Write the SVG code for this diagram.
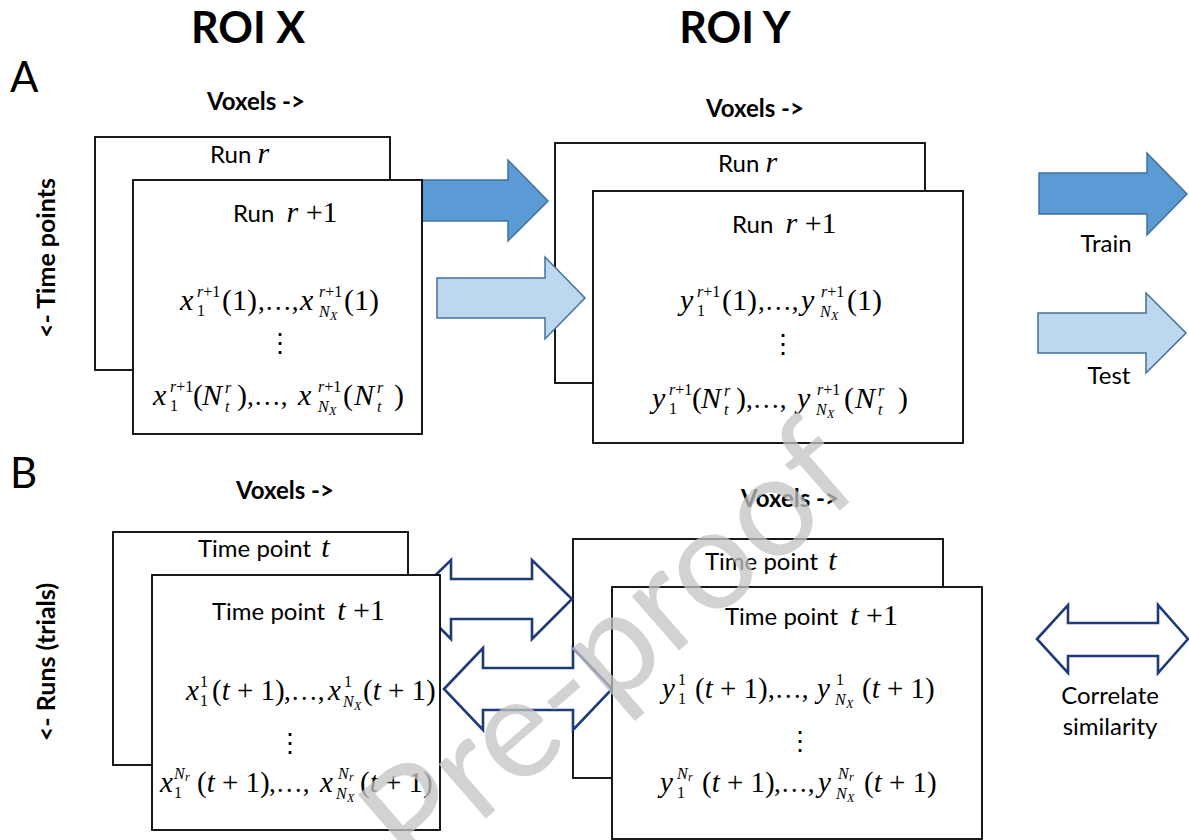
<svg xmlns="http://www.w3.org/2000/svg" width="1189" height="840" viewBox="0 0 1189 840">
  <style>
    .box { fill: #ffffff; stroke: #000000; stroke-width: 1.8; }
    .lbl { font-family: Lato, "Liberation Sans", sans-serif; fill: #000000; }
    .hd { font-size: 43px; font-weight: bold; }
    .panel { font-size: 42px; }
    .vx { font-size: 24px; font-weight: bold; }
    .vxl { font-size: 25px; font-weight: bold; }
    .run { font-size: 24px; }
    .cap { font-size: 24px; }
    .m { font-family: "Liberation Serif", "Times New Roman", serif; font-size: 30px; fill: #000000; }
    .mb { font-family: "Liberation Serif", "Times New Roman", serif; font-size: 29px; fill: #000000; }
    .i { font-style: italic; }
    .s { font-size: 16px; }
    .ss { font-size: 12px; }
    .el { font-size: 27px; }
    .dots { font-family: "DejaVu Serif", serif; font-size: 26px; fill: #000000; }
    .solid-dark { fill: #5B9BD5; stroke: #41719C; stroke-width: 1.5; }
    .solid-light { fill: #BDD7EE; stroke: #41719C; stroke-width: 1.5; }
    .dbl { fill: #ffffff; stroke: #1F3A78; stroke-width: 2.6; stroke-linejoin: miter; }
    .wm { font-family: Lato, "Liberation Sans", sans-serif; font-size: 142px; fill: #c4c4c4; opacity: 0.75; }
  </style>

  <rect width="1189" height="840" fill="#ffffff"/>

  <!-- headings and axis labels -->
  <g id="headings">
    <text class="lbl hd" x="248" y="43" text-anchor="middle">ROI X</text>
    <text class="lbl hd" x="735" y="43" text-anchor="middle">ROI Y</text>
    <text class="lbl panel" x="10" y="92">A</text>
    <text class="lbl panel" x="10" y="488">B</text>
    <text class="lbl vx" x="256" y="110" text-anchor="middle">Voxels -&gt;</text>
    <text class="lbl vx" x="755" y="117" text-anchor="middle">Voxels -&gt;</text>
    <text class="lbl vx" x="285" y="499" text-anchor="middle">Voxels -&gt;</text>
    <text class="lbl vx" x="790" y="507" text-anchor="middle">Voxels -&gt;</text>
    <text class="lbl vxl" transform="translate(55,258) rotate(-90)" text-anchor="middle">&lt;- Time points</text>
    <text class="lbl vxl" transform="translate(55,662) rotate(-90)" text-anchor="middle">&lt;- Runs (trials)</text>
  </g>

  <!-- Panel A: back runs -->
  <g id="a-x-run-r">
    <rect class="box" x="95" y="137" width="295" height="233"/>
    <text class="lbl run" x="210" y="163">Run <tspan class="m i" font-size="26px">r</tspan></text>
  </g>
  <g id="a-y-run-r">
    <rect class="box" x="555" y="143" width="370" height="240"/>
    <text class="lbl run" x="718" y="172">Run <tspan class="m i" font-size="26px">r</tspan></text>
  </g>

  <!-- Panel B: back time points -->
  <g id="b-x-time-t">
    <rect class="box" x="113" y="532" width="295" height="233"/>
    <text class="lbl run" x="198" y="557">Time point <tspan class="m i" font-size="26px" dx="4">t</tspan></text>
  </g>
  <g id="b-y-time-t">
    <rect class="box" x="573" y="539" width="370" height="239"/>
    <text class="lbl run" x="705" y="570">Time point <tspan class="m i" font-size="26px" dx="4">t</tspan></text>
  </g>

  <!-- connectors -->
  <g id="connectors">
    <polygon class="solid-dark" points="422,180 508,180 508,160 548,201 508,241 508,221 422,221"/>
    <polygon class="solid-light" points="437,278 545,278 545,257 585,298 545,339 545,318 437,318"/>
    <polygon class="solid-dark" points="1039,173 1147,173 1147,153 1187,194 1147,235 1147,214 1039,214"/>
    <polygon class="solid-light" points="1038,313 1146,313 1146,293 1186,333 1146,373 1146,353 1038,353"/>
    <polygon class="dbl" points="411,599 451,560 451,579 532,579 532,560 572,599 532,639 532,619 451,619 451,639"/>
    <polygon class="dbl" points="444,689 483,648 483,668 573,668 573,648 612,689 573,730 573,710 483,710 483,730"/>
    <polygon class="dbl" points="1037,639 1068,605 1068,623 1158,623 1158,605 1188,639 1158,673 1158,656 1068,656 1068,673"/>
  </g>

  <!-- legend captions -->
  <g id="legend">
    <text class="lbl cap" x="1106" y="252" text-anchor="middle">Train</text>
    <text class="lbl cap" x="1109" y="384" text-anchor="middle">Test</text>
    <text class="lbl cap" x="1110" y="704" text-anchor="middle">Correlate</text>
    <text class="lbl cap" x="1110" y="735" text-anchor="middle">similarity</text>
  </g>

  <!-- Panel A: run r+1 of ROI X -->
  <g id="a-x-run-r1">
    <rect class="box" x="133" y="180" width="289" height="254"/>
    <text class="lbl run" x="233" y="222">Run <tspan class="m i" font-size="26px" dx="6">r</tspan><tspan class="m" font-size="26px"> +1</tspan></text>
    <g transform="translate(180,310)">
      <text class="m"><tspan class="i" x="0" y="0">x</tspan><tspan class="s" x="17" y="6">1</tspan><tspan class="s" x="17" y="-13"><tspan class="i">r</tspan>+1</tspan><tspan x="42" y="0">(1)</tspan><tspan class="el" x="78" y="0">,…,</tspan><tspan class="i" x="120" y="0">x</tspan><tspan class="s i" x="139" y="7">N</tspan><tspan class="ss i" x="150" y="10">X</tspan><tspan class="s" x="139" y="-13"><tspan class="i">r</tspan>+1</tspan><tspan x="164" y="0">(1)</tspan></text>
    </g>
    <text class="dots" x="280" y="352" text-anchor="middle">⋮</text>
    <g transform="translate(153,405)">
      <text class="m"><tspan class="i" x="0" y="0">x</tspan><tspan class="s" x="17" y="6">1</tspan><tspan class="s" x="17" y="-13"><tspan class="i">r</tspan>+1</tspan><tspan x="40" y="0">(</tspan><tspan class="i" x="49" y="0">N</tspan><tspan class="s i" x="72" y="-12">r</tspan><tspan class="s i" x="72" y="7">t</tspan><tspan x="84" y="0">)</tspan><tspan class="el" x="94" y="0">,…,</tspan><tspan class="i" x="145" y="0">x</tspan><tspan class="s i" x="165" y="7">N</tspan><tspan class="ss i" x="176" y="10">X</tspan><tspan class="s" x="165" y="-13"><tspan class="i">r</tspan>+1</tspan><tspan x="190" y="0">(</tspan><tspan class="i" x="201" y="0">N</tspan><tspan class="s i" x="224" y="-12">r</tspan><tspan class="s i" x="224" y="7">t</tspan><tspan x="241" y="0">)</tspan></text>
    </g>
  </g>

  <!-- Panel A: run r+1 of ROI Y -->
  <g id="a-y-run-r1">
    <rect class="box" x="593" y="191" width="370" height="252"/>
    <text class="lbl run" x="732" y="233">Run <tspan class="m i" font-size="26px" dx="6">r</tspan><tspan class="m" font-size="26px"> +1</tspan></text>
    <g transform="translate(680,310)">
      <text class="m"><tspan class="i" x="0" y="0">y</tspan><tspan class="s" x="17" y="6">1</tspan><tspan class="s" x="17" y="-13"><tspan class="i">r</tspan>+1</tspan><tspan x="42" y="0">(1)</tspan><tspan class="el" x="78" y="0">,…,</tspan><tspan class="i" x="121" y="0">y</tspan><tspan class="s i" x="140" y="7">N</tspan><tspan class="ss i" x="151" y="10">X</tspan><tspan class="s" x="141" y="-13"><tspan class="i">r</tspan>+1</tspan><tspan x="167" y="0">(1)</tspan></text>
    </g>
    <text class="dots" x="783" y="353" text-anchor="middle">⋮</text>
    <g transform="translate(652,408)">
      <text class="m"><tspan class="i" x="0" y="0">y</tspan><tspan class="s" x="17" y="6">1</tspan><tspan class="s" x="17" y="-13"><tspan class="i">r</tspan>+1</tspan><tspan x="40" y="0">(</tspan><tspan class="i" x="49" y="0">N</tspan><tspan class="s i" x="72" y="-12">r</tspan><tspan class="s i" x="72" y="7">t</tspan><tspan x="84" y="0">)</tspan><tspan class="el" x="94" y="0">,…,</tspan><tspan class="i" x="145" y="0">y</tspan><tspan class="s i" x="164" y="7">N</tspan><tspan class="ss i" x="175" y="10">X</tspan><tspan class="s" x="165" y="-13"><tspan class="i">r</tspan>+1</tspan><tspan x="192" y="0">(</tspan><tspan class="i" x="203" y="0">N</tspan><tspan class="s i" x="226" y="-12">r</tspan><tspan class="s i" x="226" y="7">t</tspan><tspan x="246" y="0">)</tspan></text>
    </g>
  </g>

  <!-- Panel B: time point t+1 of ROI X -->
  <g id="b-x-time-t1">
    <rect class="box" x="152" y="575" width="288" height="255"/>
    <text class="lbl run" x="212" y="620">Time point <tspan class="m i" font-size="26px" dx="6">t</tspan><tspan class="m" font-size="26px"> +1</tspan></text>
    <g transform="translate(186,700)">
      <text class="mb"><tspan class="i" x="0" y="0">x</tspan><tspan class="s" x="14" y="6">1</tspan><tspan class="s" x="14" y="-13">1</tspan><tspan x="26" y="0">(<tspan class="i">t</tspan> + 1)</tspan><tspan class="el" x="98" y="0">,…,</tspan><tspan class="i" x="142" y="0">x</tspan><tspan class="s i" x="157" y="7">N</tspan><tspan class="ss i" x="168" y="10">X</tspan><tspan class="s" x="158" y="-13">1</tspan><tspan x="177" y="0">(<tspan class="i">t</tspan> + 1)</tspan></text>
    </g>
    <text class="dots" x="290" y="752" text-anchor="middle">⋮</text>
    <g transform="translate(160,792)">
      <text class="mb"><tspan class="i" x="0" y="0">x</tspan><tspan class="s" x="14" y="6">1</tspan><tspan class="s i" x="14" y="-13">N</tspan><tspan class="ss i" x="25" y="-11">r</tspan><tspan x="37" y="0">(<tspan class="i">t</tspan> + 1)</tspan><tspan class="el" x="109" y="0">,…,</tspan><tspan class="i" x="160" y="0">x</tspan><tspan class="s i" x="176" y="7">N</tspan><tspan class="ss i" x="187" y="10">X</tspan><tspan class="s i" x="178" y="-13">N</tspan><tspan class="ss i" x="189" y="-11">r</tspan><tspan x="200" y="0">(<tspan class="i">t</tspan> + 1)</tspan></text>
    </g>
  </g>

  <!-- Panel B: time point t+1 of ROI Y -->
  <g id="b-y-time-t1">
    <rect class="box" x="612" y="587" width="370" height="252"/>
    <text class="lbl run" x="725" y="625">Time point <tspan class="m i" font-size="26px" dx="6">t</tspan><tspan class="m" font-size="26px"> +1</tspan></text>
    <g transform="translate(662,698)">
      <text class="mb"><tspan class="i" x="0" y="0">y</tspan><tspan class="s" x="16" y="6">1</tspan><tspan class="s" x="16" y="-13">1</tspan><tspan x="33" y="0">(<tspan class="i">t</tspan> + 1)</tspan><tspan class="el" x="106" y="0">,…,</tspan><tspan class="i" x="155" y="0">y</tspan><tspan class="s i" x="173" y="7">N</tspan><tspan class="ss i" x="184" y="10">X</tspan><tspan class="s" x="174" y="-13">1</tspan><tspan x="200" y="0">(<tspan class="i">t</tspan> + 1)</tspan></text>
    </g>
    <text class="dots" x="800" y="750" text-anchor="middle">⋮</text>
    <g transform="translate(660,792)">
      <text class="mb"><tspan class="i" x="0" y="0">y</tspan><tspan class="s" x="17" y="6">1</tspan><tspan class="s i" x="17" y="-13">N</tspan><tspan class="ss i" x="28" y="-11">r</tspan><tspan x="42" y="0">(<tspan class="i">t</tspan> + 1)</tspan><tspan class="el" x="114" y="0">,…,</tspan><tspan class="i" x="158" y="0">y</tspan><tspan class="s i" x="176" y="7">N</tspan><tspan class="ss i" x="187" y="10">X</tspan><tspan class="s i" x="178" y="-13">N</tspan><tspan class="ss i" x="189" y="-11">r</tspan><tspan x="204" y="0">(<tspan class="i">t</tspan> + 1)</tspan></text>
    </g>
  </g>

  <!-- overprinted status mark -->
  <text class="wm" transform="translate(415,880) rotate(-41)">Pre-proof</text>
</svg>
